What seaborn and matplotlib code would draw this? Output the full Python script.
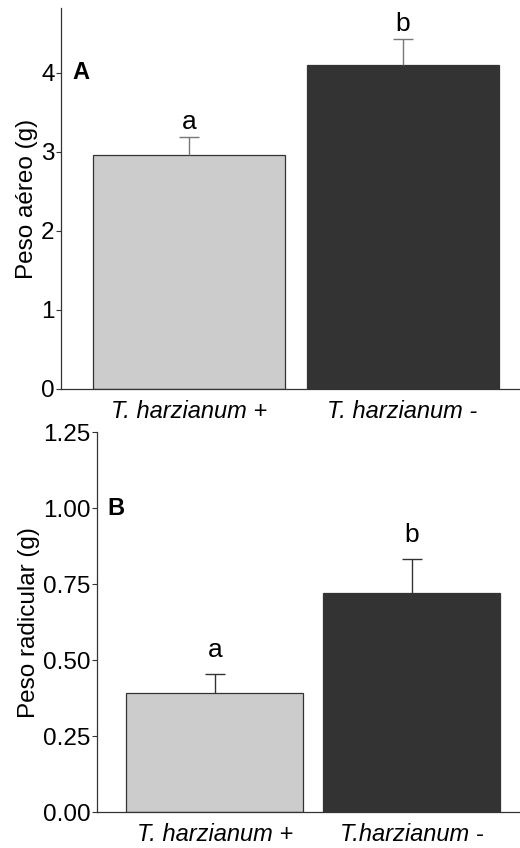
import matplotlib
matplotlib.use("Agg")
import matplotlib.pyplot as plt
import seaborn as sns
import pandas as pd

sns.set_theme(style="white")
plt.rcParams['font.family'] = ['Liberation Sans', 'DejaVu Sans']
plt.rcParams['text.color'] = 'black'

# Data
treatments = ["T. harzianum +", "T. harzianum -"]
labels_a = ["T. harzianum +", "T. harzianum -"]
labels_b = ["T. harzianum +", "T.harzianum -"]
aereo_mean = [2.96, 4.10]
aereo_err = [0.23, 0.33]
radic_mean = [0.392, 0.720]
radic_err = [0.062, 0.112]
letters_a = ["a", "b"]
letters_b = ["a", "b"]
bar_colors = ["#cccccc", "#333333"]

fig = plt.figure(figsize=(5.2, 8.48), dpi=100)
axA = fig.add_axes([0.1173, 0.5413, 0.8827, 0.4493])
axB = fig.add_axes([0.186, 0.0421, 0.814, 0.4481])


def panel(ax, means, errs, letters, xlabels, ylabel, ylim, yticks, yticklabels,
          tag, tag_y, err_color, letter_off):
    df = pd.DataFrame({"trt": treatments, "val": means})
    sns.barplot(data=df, x="trt", y="val", hue="trt", palette=bar_colors,
                legend=False, width=0.9, edgecolor="#333333", linewidth=0.9,
                errorbar=None, ax=ax, saturation=1)
    xs = list(range(len(means)))
    cont = ax.errorbar(xs, means, yerr=[[0] * len(errs), errs], fmt="none",
                       ecolor=err_color, elinewidth=1.0, capsize=7.5, capthick=1.0,
                       zorder=3)
    caplines = cont.lines[1]
    if len(caplines) == 2:
        caplines[0].set_visible(False)
    for x, m, e, l in zip(xs, means, errs, letters):
        ax.annotate(l, (x, m + e), xytext=(0, letter_off), textcoords="offset points",
                    ha="center", va="bottom", fontsize=19, color="black")
    ax.set_xlim(-0.6, 1.55)
    ax.set_ylim(*ylim)
    ax.set_yticks(yticks)
    ax.set_yticklabels(yticklabels, fontsize=17.5, color="black")
    ax.set_xticks(xs)
    ax.set_xticklabels(xlabels, fontsize=17, color="black", fontstyle="italic")
    ax.set_xlabel("")
    ax.set_ylabel(ylabel, fontsize=17.5, labelpad=2, color="black")
    for s in ["top", "right"]:
        ax.spines[s].set_visible(False)
    for s in ["left", "bottom"]:
        ax.spines[s].set_color("#333333")
        ax.spines[s].set_linewidth(0.9)
    ax.tick_params(axis="y", left=True, length=3.5, width=0.8, color="#333333", pad=1)
    ax.tick_params(axis="x", bottom=False, pad=2)
    ax.text(-0.545, tag_y, tag, fontsize=17, fontweight="bold", ha="left", va="center",
            color="black")


panel(axA, aereo_mean, aereo_err, letters_a, labels_a, "Peso aéreo (g)",
      (0, 4.82), [0, 1, 2, 3, 4], ["0", "1", "2", "3", "4"], "A", 4.0, "#777777", 2)
panel(axB, radic_mean, radic_err, letters_b, labels_b, "Peso radicular (g)",
      (0, 1.25), [0, 0.25, 0.5, 0.75, 1.0, 1.25],
      ["0.00", "0.25", "0.50", "0.75", "1.00", "1.25"], "B", 1.0, "#333333", 9)

fig.savefig("out.png", dpi=100)
